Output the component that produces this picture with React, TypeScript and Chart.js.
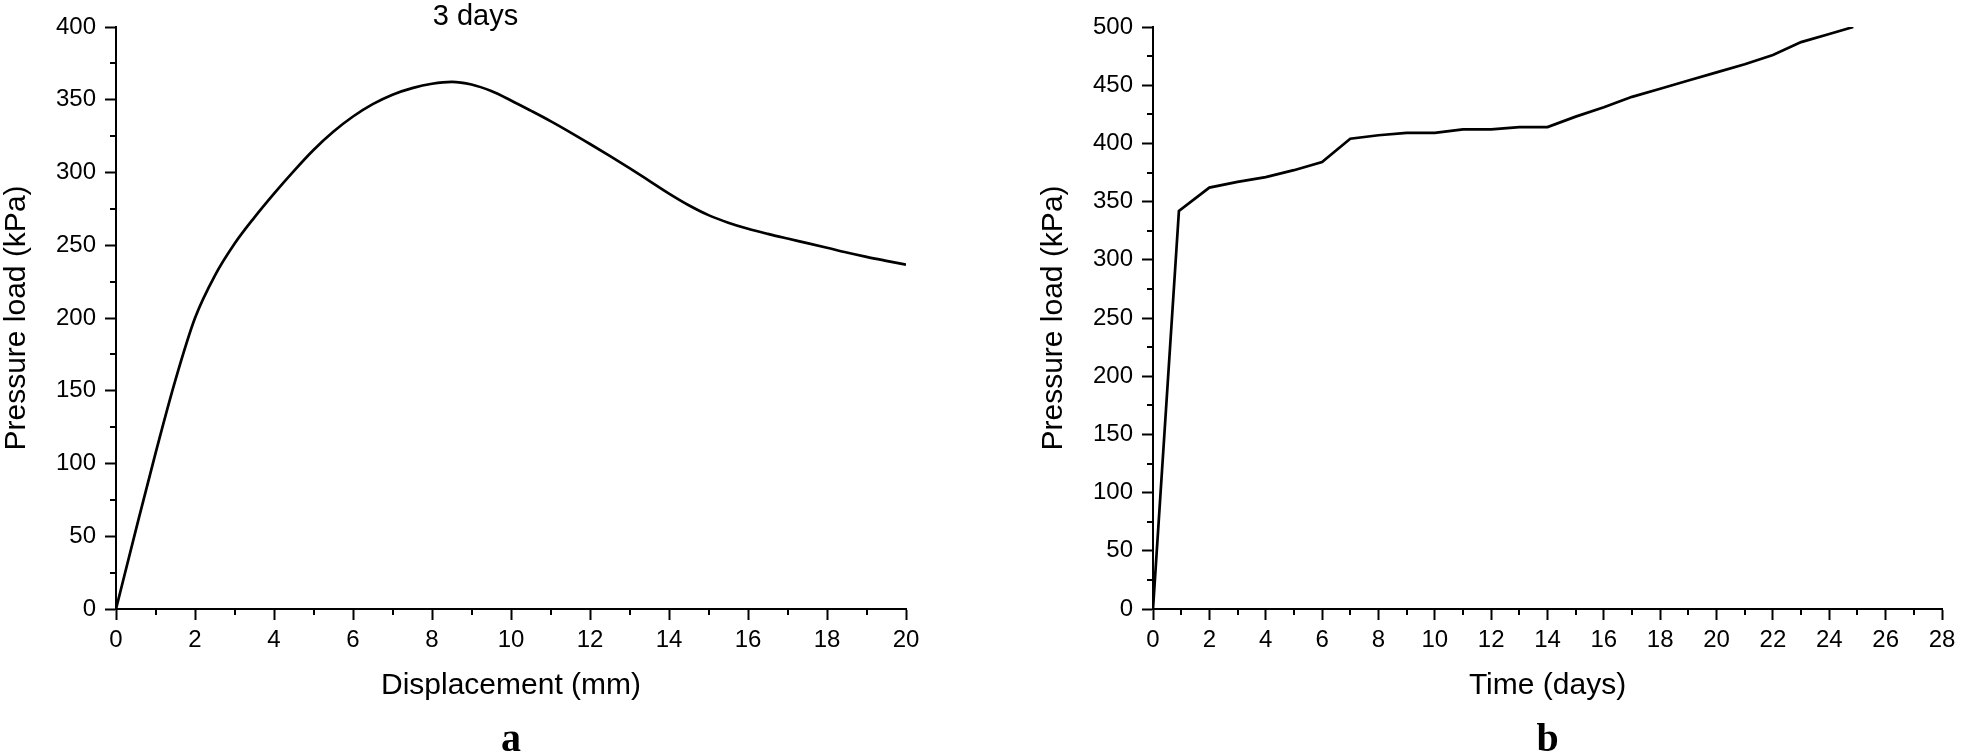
import React, { useEffect, useRef } from 'react';
import { Chart, registerables } from 'chart.js';

Chart.register(...registerables);

// ---------- Data: panel a (3 days) ----------
const displacementMm = [0, 0.5, 1, 1.5, 2, 2.5, 3, 3.5, 4, 4.5, 5, 5.5, 6, 6.5, 7, 7.5, 8, 8.5, 9, 9.5, 10, 10.5, 11, 11.5, 12, 12.5, 13, 13.5, 14, 14.5, 15, 15.5, 16, 16.5, 17, 17.5, 18, 18.5, 19, 19.5, 20];
const loadA = [0, 54, 107, 157, 200, 229, 251, 269, 285.5, 301, 315.5, 328, 338.5, 347, 353.5, 358, 361, 362.3, 360.5, 356, 349.5, 342.5, 335.3, 327.6, 319.6, 311.4, 303, 294.3, 285.5, 277.5, 270.7, 265.5, 261.3, 257.8, 254.6, 251.5, 248.3, 245, 242, 239.3, 236.7];

// ---------- Data: panel b ----------
const timeDays = [0, 0.92, 2, 3, 4, 5, 6, 7, 8, 9, 10, 11, 12, 13, 14, 15, 16, 17, 18, 19, 20, 21, 22, 23, 24, 24.85];
const loadB = [0, 342, 362, 367, 371, 377, 384, 404, 407, 409, 409, 412, 412, 414, 414, 423, 431, 440, 447, 454, 461, 468, 476, 487, 494, 500];

// ---------- Tick lists ----------
const xTicksA = [0, 2, 4, 6, 8, 10, 12, 14, 16, 18, 20];
const xMinorA = [1, 3, 5, 7, 9, 11, 13, 15, 17, 19];
const yTicksA = [0, 50, 100, 150, 200, 250, 300, 350, 400];
const yMinorA = [25, 75, 125, 175, 225, 275, 325, 375];

const xTicksB = [0, 2, 4, 6, 8, 10, 12, 14, 16, 18, 20, 22, 24, 26, 28];
const xMinorB = [1, 3, 5, 7, 9, 11, 13, 15, 17, 19, 21, 23, 25, 27];
const yTicksB = [0, 50, 100, 150, 200, 250, 300, 350, 400, 450, 500];
const yMinorB = [25, 75, 125, 175, 225, 275, 325, 375, 425, 475];

const SANS = "'Liberation Sans', Arial, Helvetica, sans-serif";
const SERIF = "'Liberation Serif', 'Times New Roman', serif";

const decorPlugin = {
  id: 'decor',
  afterDraw(chart: any, _args: any, opts: any) {
    const { ctx, chartArea } = chart;
    const xs = chart.scales.x;
    const ys = chart.scales.y;
    ctx.save();
    ctx.strokeStyle = '#000';
    ctx.lineWidth = 2;
    ctx.beginPath();
    for (const v of opts.xMinor) {
      const px = Math.round(xs.getPixelForValue(v));
      ctx.moveTo(px, xs.top);
      ctx.lineTo(px, xs.top + opts.minorLen);
    }
    for (const v of opts.yMinor) {
      const py = Math.round(ys.getPixelForValue(v));
      ctx.moveTo(ys.right, py);
      ctx.lineTo(ys.right - opts.minorLen, py);
    }
    ctx.stroke();
    ctx.fillStyle = '#000';
    ctx.textAlign = 'center';
    ctx.textBaseline = 'alphabetic';
    if (opts.note) {
      ctx.font = `${opts.noteSize}px ${SANS}`;
      ctx.fillText(opts.note, xs.getPixelForValue(opts.noteX), opts.noteBaseline);
    }
    if (opts.letter) {
      ctx.font = `bold ${opts.letterSize}px ${SERIF}`;
      ctx.fillText(opts.letter, (chartArea.left + chartArea.right) / 2, opts.letterBaseline);
    }
    ctx.restore();
  },
};

function makeConfig(p: any) {
  const tickFont = { family: SANS, size: 24 };
  const titleFont = { family: SANS, size: 30, lineHeight: 1 };
  return {
    type: 'line',
    data: {
      datasets: [
        {
          data: p.xs.map((x: number, i: number) => ({ x, y: p.ys[i] })),
          borderColor: '#000',
          borderWidth: 2.7,
          pointRadius: 0,
          fill: false,
          tension: p.smooth ? 0.4 : 0,
          cubicInterpolationMode: p.smooth ? 'monotone' : 'default',
        },
      ],
    },
    options: {
      animation: false,
      responsive: false,
      maintainAspectRatio: false,
      layout: { padding: { left: 0, top: 27, right: p.padRight, bottom: 0 } },
      plugins: {
        legend: { display: false },
        tooltip: { enabled: false },
        title: { display: false },
        decor: {
          xMinor: p.xMinor,
          yMinor: p.yMinor,
          minorLen: 6,
          note: p.note,
          noteX: p.noteX,
          noteSize: 29,
          noteBaseline: 25,
          letter: p.letter,
          letterSize: 40,
          letterBaseline: 751,
        },
      },
      scales: {
        x: {
          type: 'linear',
          min: p.xMin,
          max: p.xMax,
          afterBuildTicks: (s: any) => {
            s.ticks = p.xTicks.map((v: number) => ({ value: v }));
          },
          afterFit: (s: any) => {
            s.height = 147;
            s.paddingLeft = 0;
            s.paddingRight = 0;
          },
          grid: { display: true, drawOnChartArea: false, drawTicks: true, tickLength: 11, tickWidth: 2, tickColor: '#000', color: '#000' },
          border: { display: true, color: '#000', width: 2 },
          ticks: { color: '#000', font: tickFont, padding: 6, maxRotation: 0, autoSkip: false },
          title: { display: true, text: p.xTitle, color: '#000', font: titleFont, padding: { top: 0, bottom: 55 } },
        },
        y: {
          type: 'linear',
          min: p.yMin,
          max: p.yMax,
          afterBuildTicks: (s: any) => {
            s.ticks = p.yTicks.map((v: number) => ({ value: v }));
          },
          afterFit: (s: any) => {
            s.width = p.yWidth;
            s.paddingTop = 0;
            s.paddingBottom = 0;
          },
          grid: { display: true, drawOnChartArea: false, drawTicks: true, tickLength: 11, tickWidth: 2, tickColor: '#000', color: '#000' },
          border: { display: true, color: '#000', width: 2 },
          ticks: { color: '#000', font: tickFont, padding: 9, autoSkip: false },
          title: { display: true, text: 'Pressure load (kPa)', color: '#000', font: titleFont, padding: { top: p.yTitlePad, bottom: 0 } },
        },
      },
    },
    plugins: [decorPlugin],
  };
}

function Panel(props: any) {
  const ref = useRef<HTMLCanvasElement | null>(null);
  useEffect(() => {
    if (!ref.current) return;
    const chart = new Chart(ref.current, makeConfig(props.cfg) as any);
    return () => chart.destroy();
  }, []);
  return (
    <canvas
      ref={ref}
      width={props.width}
      height={756}
      style={{ position: 'absolute', left: props.left, top: 0, width: props.width, height: 756 }}
    />
  );
}

export default function App() {
  const cfgA = {
    xs: displacementMm, ys: loadA, smooth: true,
    xMin: 0, xMax: 20, yMin: 0, yMax: 400,
    xTicks: xTicksA, xMinor: xMinorA, yTicks: yTicksA, yMinor: yMinorA,
    xTitle: 'Displacement (mm)', yWidth: 116, yTitlePad: 2, padRight: 74,
    note: '3 days', noteX: 9.1, letter: 'a',
  };
  const cfgB = {
    xs: timeDays, ys: loadB, smooth: false,
    xMin: 0, xMax: 28, yMin: 0, yMax: 500,
    xTicks: xTicksB, xMinor: xMinorB, yTicks: yTicksB, yMinor: yMinorB,
    xTitle: 'Time (days)', yWidth: 173, yTitlePad: 59, padRight: 19,
    note: '', noteX: 0, letter: 'b',
  };
  return (
    <div style={{ position: 'absolute', left: 0, top: 0, width: 1961, height: 756, background: '#fff', overflow: 'hidden' }}>
      <Panel left={0} width={980} cfg={cfgA} />
      <Panel left={980} width={981} cfg={cfgB} />
    </div>
  );
}
